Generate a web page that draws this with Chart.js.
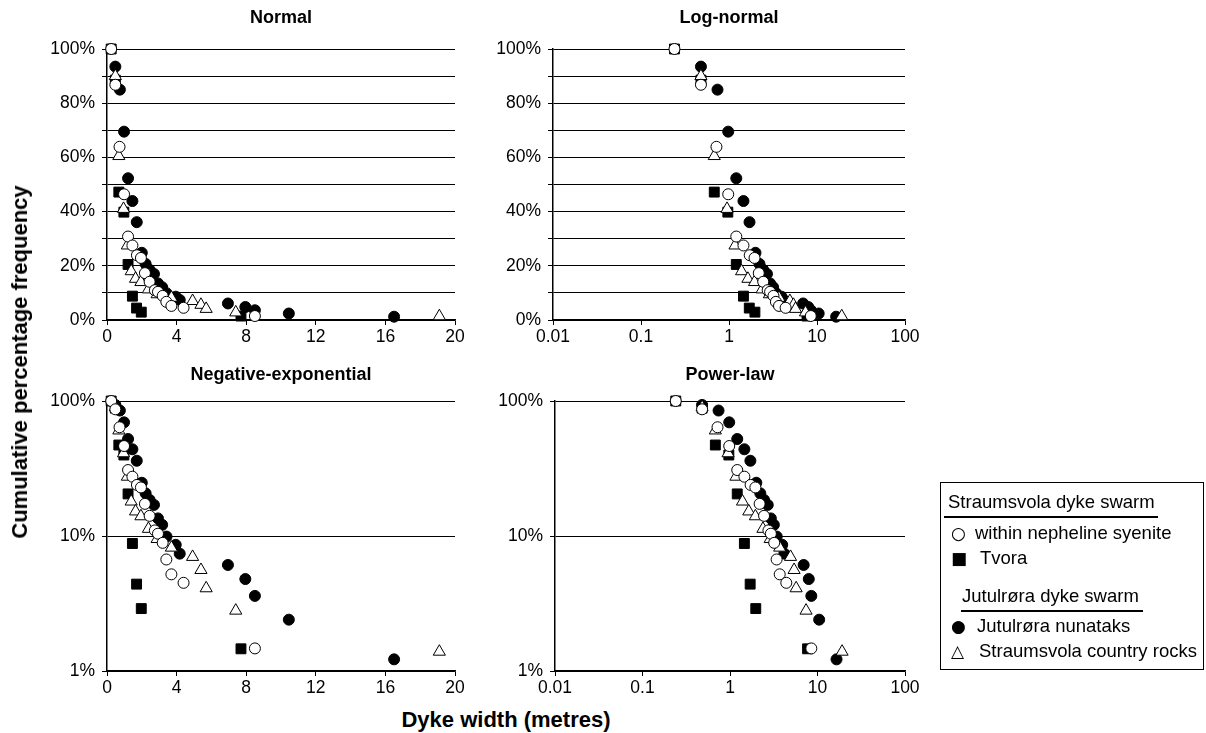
<!DOCTYPE html>
<html>
<head>
<meta charset="utf-8">
<script src="https://cdn.jsdelivr.net/npm/chart.js@4.4.1/dist/chart.umd.min.js"></script>
<style>
  body { margin: 0; background: #fff; width: 1206px; height: 733px; position: relative; overflow: hidden;
         font-family: "Liberation Sans", Arial, sans-serif; color: #000; }
  canvas { position: absolute; }
  .axis-title { position: absolute; font-weight: bold; font-size: 22px; white-space: nowrap; }
  .legend { position: absolute; left: 940px; top: 482px; width: 264px; height: 188px; border: 1.5px solid #000; box-sizing: border-box; }
  .legend div { position: absolute; font-size: 18.5px; line-height: 22px; white-space: nowrap; }
  .legend .rule { height: 2px; background: #000; }
  .legend .sym { font-family: "DejaVu Sans", sans-serif; font-size: 17px; }
</style>
</head>
<body>
<!-- each canvas is symmetric around its plot area so the panel title sits centred over the plot -->
<canvas id="normal" style="left:30px;top:0px" width="502" height="350"></canvas>
<canvas id="lognormal" style="left:476px;top:0px" width="506" height="350"></canvas>
<canvas id="negexp" style="left:30px;top:352px" width="502" height="352"></canvas>
<canvas id="powerlaw" style="left:478px;top:352px" width="504" height="352"></canvas>

<div class="axis-title" style="left:20px;top:362px;transform:translate(-50%,-50%) rotate(-90deg)">Cumulative percentage frequency</div>
<div class="axis-title" style="left:506px;top:720px;transform:translate(-50%,-50%)">Dyke width (metres)</div>

<div class="legend">
  <div style="left:7px;top:8px">Straumsvola dyke swarm</div>
  <div class="rule" style="left:3px;top:33px;width:214px"></div>
  <div class="sym" style="left:10px;top:39px">○</div><div style="left:34px;top:39px">within nepheline syenite</div>
  <div class="sym" style="left:10px;top:64px">■</div><div style="left:39px;top:64px">Tvora</div>
  <div style="left:21px;top:102px">Jutulrøra dyke swarm</div>
  <div class="rule" style="left:20px;top:127px;width:182px"></div>
  <div class="sym" style="left:10px;top:132px">●</div><div style="left:36px;top:132px">Jutulrøra nunataks</div>
  <div class="sym" style="left:10px;top:157px">△</div><div style="left:38px;top:157px">Straumsvola country rocks</div>
</div>

<script>
// dyke widths (metres) and cumulative percentage frequency for each group
const nephWidth = [0.24, 0.48, 0.72, 0.98, 1.21, 1.46, 1.72, 1.95, 2.18, 2.45, 2.75, 2.93, 3.2, 3.41, 3.7, 4.4, 8.5];
const nephFreq = [100, 86.8, 63.9, 46.4, 30.8, 27.5, 23.9, 22.9, 17.3, 14.1, 11.0, 10.4, 8.9, 6.7, 5.2, 4.5, 1.47];

const tvoraWidth = [0.24, 0.48, 0.68, 0.97, 1.21, 1.46, 1.7, 1.97, 7.7];
const tvoraFreq = [100, 88.5, 47.2, 39.8, 20.5, 8.8, 4.4, 2.9, 1.46];

const jutulWidth = [0.48, 0.74, 0.98, 1.21, 1.46, 1.71, 2.0, 2.22, 2.45, 2.7, 2.93, 3.17, 3.42, 3.95, 4.18, 6.95, 7.95, 8.5, 10.45, 16.5];
const jutulFreq = [93.5, 85, 69.5, 52.3, 43.9, 36.1, 24.8, 20.7, 18.5, 17.0, 13.5, 12.1, 9.9, 8.6, 7.4, 6.1, 4.8, 3.6, 2.4, 1.22];

const countryWidth = [0.48, 0.68, 0.95, 1.17, 1.39, 1.64, 1.95, 2.38, 2.88, 3.7, 4.92, 5.4, 5.7, 7.4, 19.1];
const countryFreq = [90, 60.5, 41, 27.5, 18, 15.2, 14, 11.3, 9.5, 8.2, 7.0, 5.6, 4.1, 2.8, 1.39];

// tick values / labels
const linearXTicks = [0, 4, 8, 12, 16, 20];
const logXTicks = [0.01, 0.1, 1, 10, 100];
const logXLabels = ["0.01", "0.1", "1", "10", "100"];
const logYTicks = [1, 10, 100];
const logYLabels = ["1%", "10%", "100%"];

const tickFont = { family: "'Liberation Sans', Arial, sans-serif", size: 17.5 };

function toPoints(xs, ys) {
    return xs.map((x, i) => ({ x: x, y: ys[i] }));
}

// first dataset is drawn on top
function buildDatasets() {
    return [
        { label: "within nepheline syenite", data: toPoints(nephWidth, nephFreq), pointStyle: "circle", yAxisID: "y",
          pointRadius: 5.5, backgroundColor: "#fff", borderColor: "#000", borderWidth: 1 },
        { label: "Straumsvola country rocks", data: toPoints(countryWidth, countryFreq), pointStyle: "triangle", yAxisID: "y",
          pointRadius: 7, backgroundColor: "#fff", borderColor: "#000", borderWidth: 1 },
        { label: "Jutulrøra nunataks", data: toPoints(jutulWidth, jutulFreq), pointStyle: "circle", yAxisID: "y",
          pointRadius: 5.5, backgroundColor: "#000", borderColor: "#000", borderWidth: 1 },
        { label: "Tvora", data: toPoints(tvoraWidth, tvoraFreq), pointStyle: "rect", yAxisID: "y",
          pointRadius: 7, backgroundColor: "#000", borderColor: "#000", borderWidth: 1 },
    ];
}

function xScale(logX, axisHeight) {
    const s = {
        min: logX ? 0.01 : 0,
        max: logX ? 100 : 20,
        border: { display: true, color: "#000", width: 1.5 },
        grid: { drawOnChartArea: false, drawTicks: true, tickLength: 5, color: "#000" },
        ticks: { color: "#000", font: tickFont, autoSkip: false, maxRotation: 0, padding: 2 },
        afterFit: (scale) => { scale.height = axisHeight; },
    };
    if (logX) {
        s.type = "logarithmic";
        s.afterBuildTicks = (scale) => { scale.ticks = logXTicks.map((v) => ({ value: v })); };
        s.ticks.callback = (v) => logXLabels[logXTicks.indexOf(v)] ?? "";
    } else {
        s.type = "linear";
        s.afterBuildTicks = (scale) => { scale.ticks = linearXTicks.map((v) => ({ value: v })); };
    }
    return s;
}

function yScale(logY) {
    const s = {
        position: "left",
        border: { display: true, color: "#000", width: 1.5 },
        grid: { drawOnChartArea: true, drawTicks: true, tickLength: 5, color: "#000", lineWidth: 1 },
        ticks: { color: "#000", font: tickFont, autoSkip: false, padding: 7 },
        afterFit: (scale) => { scale.width = 77; },
    };
    if (logY) {
        s.type = "logarithmic";
        s.min = 1;
        s.max = 100;
        s.afterBuildTicks = (scale) => { scale.ticks = logYTicks.map((v) => ({ value: v })); };
        s.ticks.callback = (v) => logYLabels[logYTicks.indexOf(v)] ?? "";
    } else {
        s.type = "linear";
        s.min = 0;
        s.max = 100;
        s.ticks.stepSize = 10;
        s.ticks.callback = (v) => (v % 20 === 0 ? v + "%" : "");
    }
    return s;
}

// empty right-hand axis, same width as the left one, keeps the title centred on the plot
const spacerScale = {
    type: "linear",
    position: "right",
    display: true,
    grid: { display: false, drawTicks: false },
    border: { display: false },
    ticks: { display: false },
    afterFit: (scale) => { scale.width = 77; },
};

function makePanel(id, title, logX, logY, titleTop, axisHeight) {
    new Chart(document.getElementById(id), {
        type: "scatter",
        data: { datasets: buildDatasets() },
        options: {
            responsive: false,
            animation: false,
            clip: false,
            layout: { padding: 0 },
            plugins: {
                legend: { display: false },
                tooltip: { enabled: false },
                title: {
                    display: true,
                    text: title,
                    color: "#000",
                    font: { family: "'Liberation Sans', Arial, sans-serif", size: 18, weight: "bold", lineHeight: 1.2 },
                    padding: { top: titleTop, bottom: 49 - titleTop - 21.6 },
                },
            },
            scales: { x: xScale(logX, axisHeight), y: yScale(logY), spacer: spacerScale },
        },
    });
}

makePanel("normal", "Normal", false, false, 7, 30);
makePanel("lognormal", "Log-normal", true, false, 7, 30);
makePanel("negexp", "Negative-exponential", false, true, 12, 33);
makePanel("powerlaw", "Power-law", true, true, 12, 33);
</script>
</body>
</html>
